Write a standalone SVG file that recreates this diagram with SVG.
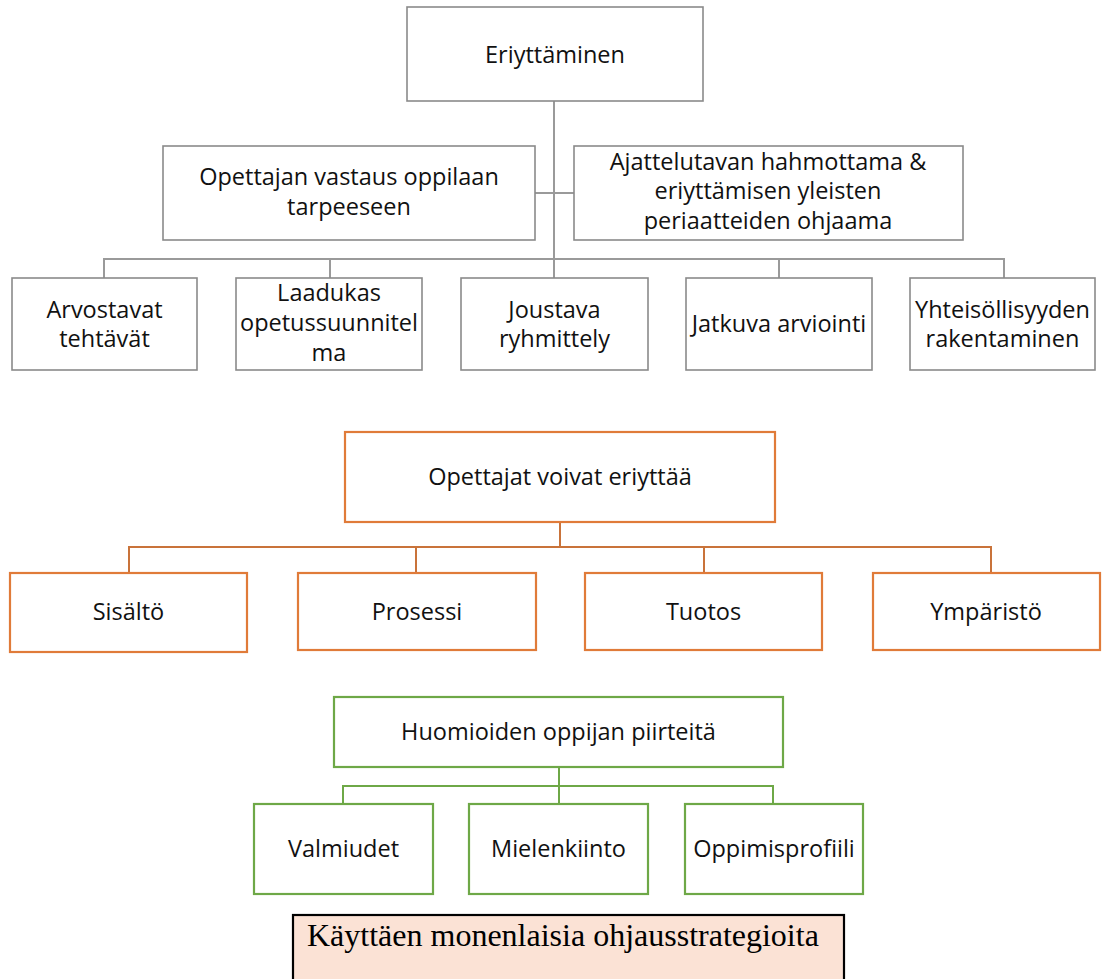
<svg xmlns="http://www.w3.org/2000/svg" width="1102" height="979" viewBox="0 0 1102 979">
  <style>
    .bg { fill: #ffffff; }
    .box-gray { fill: #ffffff; stroke: #8a8a8a; stroke-width: 1.6; }
    .box-orange { fill: #ffffff; stroke: #E07B39; stroke-width: 2.2; }
    .box-green { fill: #ffffff; stroke: #6EA847; stroke-width: 2.2; }
    .box-note { fill: #FBE2D5; stroke: #000000; stroke-width: 2.2; }
    .ln-gray { fill: none; stroke: #9a9a9a; stroke-width: 2; }
    .ln-orange { fill: none; stroke: #C9733A; stroke-width: 2; }
    .ln-green { fill: none; stroke: #6EA847; stroke-width: 2; }
    text { font-family: "Open Sans", "Noto Sans", "Liberation Sans", sans-serif; font-size: 23.5px; fill: #111111; text-anchor: middle; }
    .serif { font-family: "Liberation Serif", "Times New Roman", serif; font-size: 32px; fill: #000000; text-anchor: start; }
  </style>

  <rect class="bg" x="0" y="0" width="1102" height="979"/>

  <!-- connectors -->
  <g id="connectors">
    <!-- gray tree -->
    <path class="ln-gray" d="M554 101 V278"/>
    <path class="ln-gray" d="M535 193 H574"/>
    <path class="ln-gray" d="M104 278 V259 H1004 V278"/>
    <path class="ln-gray" d="M330 259 V278"/>
    <path class="ln-gray" d="M779 259 V278"/>
    <!-- orange tree -->
    <path class="ln-orange" d="M560 522 V547"/>
    <path class="ln-orange" d="M129 573 V547 H991 V573"/>
    <path class="ln-orange" d="M416 547 V573"/>
    <path class="ln-orange" d="M704 547 V573"/>
    <!-- green tree -->
    <path class="ln-green" d="M559 767 V804"/>
    <path class="ln-green" d="M343 804 V786 H773 V804"/>
  </g>

  <!-- gray nodes -->
  <g id="eriyttaminen">
    <rect class="box-gray" x="407" y="7" width="296" height="94"/>
    <text x="555" y="63">Eriyttäminen</text>
  </g>
  <g id="opettajan-vastaus">
    <rect class="box-gray" x="163" y="146" width="372" height="94"/>
    <text x="349" y="185">Opettajan vastaus oppilaan</text>
    <text x="349" y="215">tarpeeseen</text>
  </g>
  <g id="ajattelutavan">
    <rect class="box-gray" x="574" y="146" width="389" height="94"/>
    <text x="768" y="170">Ajattelutavan hahmottama &amp;</text>
    <text x="768" y="199">eriyttämisen yleisten</text>
    <text x="768" y="229">periaatteiden ohjaama</text>
  </g>
  <g id="arvostavat">
    <rect class="box-gray" x="12" y="278" width="185" height="92"/>
    <text x="104.5" y="318">Arvostavat</text>
    <text x="104.5" y="347">tehtävät</text>
  </g>
  <g id="laadukas">
    <rect class="box-gray" x="236" y="278" width="186" height="92"/>
    <text x="329" y="301">Laadukas</text>
    <text x="329" y="331">opetussuunnitel</text>
    <text x="329" y="361">ma</text>
  </g>
  <g id="joustava">
    <rect class="box-gray" x="461" y="278" width="187" height="92"/>
    <text x="554.5" y="318">Joustava</text>
    <text x="554.5" y="347">ryhmittely</text>
  </g>
  <g id="jatkuva">
    <rect class="box-gray" x="686" y="278" width="186" height="92"/>
    <text x="779" y="332">Jatkuva arviointi</text>
  </g>
  <g id="yhteisollisyys">
    <rect class="box-gray" x="910" y="278" width="185" height="92"/>
    <text x="1002.5" y="318">Yhteisöllisyyden</text>
    <text x="1002.5" y="347">rakentaminen</text>
  </g>

  <!-- orange nodes -->
  <g id="opettajat-voivat">
    <rect class="box-orange" x="345" y="432" width="430" height="90"/>
    <text x="560" y="485">Opettajat voivat eriyttää</text>
  </g>
  <g id="sisalto">
    <rect class="box-orange" x="10" y="573" width="237" height="79"/>
    <text x="128.5" y="620">Sisältö</text>
  </g>
  <g id="prosessi">
    <rect class="box-orange" x="298" y="573" width="238" height="77"/>
    <text x="417" y="620">Prosessi</text>
  </g>
  <g id="tuotos">
    <rect class="box-orange" x="585" y="573" width="237" height="77"/>
    <text x="703.5" y="620">Tuotos</text>
  </g>
  <g id="ymparisto">
    <rect class="box-orange" x="873" y="573" width="227" height="77"/>
    <text x="986" y="620">Ympäristö</text>
  </g>

  <!-- green nodes -->
  <g id="huomioiden">
    <rect class="box-green" x="334" y="697" width="449" height="70"/>
    <text x="558.5" y="740">Huomioiden oppijan piirteitä</text>
  </g>
  <g id="valmiudet">
    <rect class="box-green" x="254" y="804" width="179" height="90"/>
    <text x="343.5" y="857">Valmiudet</text>
  </g>
  <g id="mielenkiinto">
    <rect class="box-green" x="469" y="804" width="179" height="90"/>
    <text x="558.5" y="857">Mielenkiinto</text>
  </g>
  <g id="oppimisprofiili">
    <rect class="box-green" x="685" y="804" width="178" height="90"/>
    <text x="774" y="857">Oppimisprofiili</text>
  </g>

  <!-- note box -->
  <g id="kayttaen">
    <rect class="box-note" x="293" y="915" width="551" height="80"/>
    <text class="serif" x="307" y="946">Käyttäen monenlaisia ohjausstrategioita</text>
  </g>
</svg>
